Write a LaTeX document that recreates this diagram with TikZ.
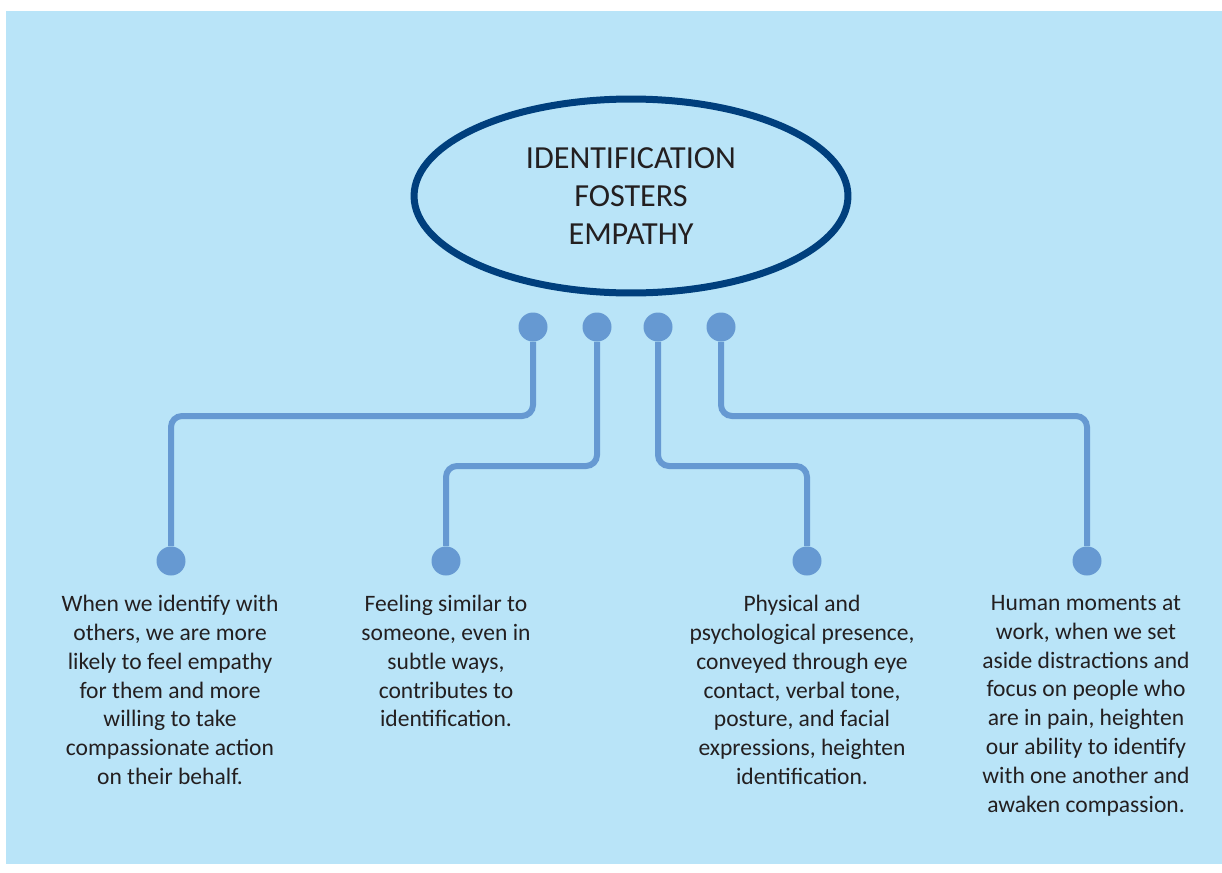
\documentclass[tikz,border=0pt]{standalone}
\usepackage{fontspec}
\setmainfont{Carlito}
\usepackage{tikz}
\usetikzlibrary{shapes.geometric}
\definecolor{sky}{RGB}{185, 228, 248}
\definecolor{wire}{RGB}{102, 153, 210}
\definecolor{navy}{RGB}{0, 63, 125}
\definecolor{ink}{RGB}{35, 31, 32}
\tikzset{
  dot/.style={circle, fill=wire, inner sep=0, minimum size=0.58cm},
  link/.style={draw=wire, line width=0.12cm, rounded corners=0.22cm},
  note/.style={text=ink, align=center, anchor=north, inner sep=0,
               font=\fontsize{13.4}{16.4}\selectfont}
}
\begin{document}
\begin{tikzpicture}[x=0.02cm, y=-0.02cm]

  \useasboundingbox (0, 0) rectangle (1222, 872);
  \fill[sky] (6, 11) rectangle (1222, 864);

  \node[ellipse, draw=navy, line width=0.14cm, inner sep=0,
        minimum width=8.68cm, minimum height=3.88cm, text=ink, align=center,
        font=\fontsize{18.3}{21.6}\selectfont] (core) at (631, 196)
        {IDENTIFICATION\\FOSTERS\\EMPATHY};

  \foreach \x [count=\n] in {533, 597, 658, 721} {
    \node[dot] (t\n) at (\x, 327) {};
  }
  \foreach \x [count=\n] in {171, 446, 807, 1087} {
    \node[dot] (b\n) at (\x, 561) {};
  }

  % bends of the four wires
  \foreach \x/\y [count=\n] in {171/416, 446/466, 807/466, 1087/416} {
    \coordinate (j\n) at (\x, \y);
    \draw[link] (t\n) |- (j\n) -- (b\n);
  }

  \node[note] (n1) at (170, 595) {When we identify with\\others, we are more\\likely to feel empathy\\for them and more\\willing to take\\compassionate action\\on their behalf.};
  \node[note] (n2) at (446, 595) {Feeling similar to\\someone, even in\\subtle ways,\\contributes to\\identification.};
  \node[note] (n3) at (802, 595) {Physical and\\psychological presence,\\conveyed through eye\\contact, verbal tone,\\posture, and facial\\expressions, heighten\\identification.};
  \node[note] (n4) at (1086, 595) {Human moments at\\work, when we set\\aside distractions and\\focus on people who\\are in pain, heighten\\our ability to identify\\with one another and\\awaken compassion.};

\end{tikzpicture}
\end{document}
